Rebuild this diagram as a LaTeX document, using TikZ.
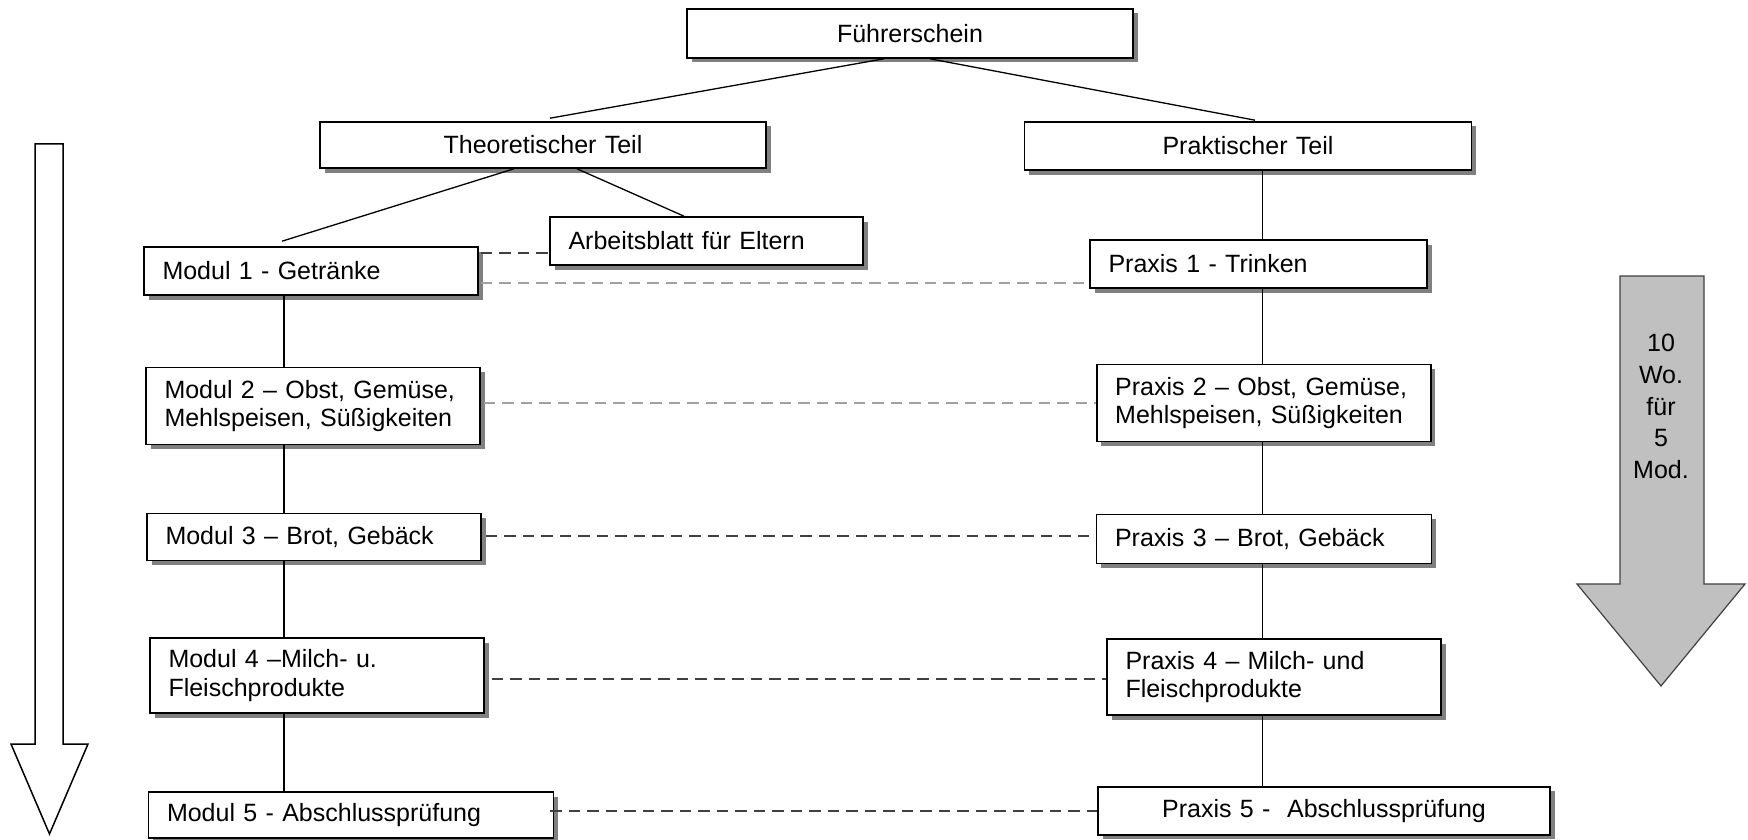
\documentclass[tikz,border=0pt]{standalone}
\usepackage{fontspec}
\setmainfont{Liberation Sans}
\usetikzlibrary{shadows}
\definecolor{shadowgray}{HTML}{808080}
\definecolor{dashdarkc}{HTML}{404040}
\definecolor{dashlightc}{HTML}{A0A0A0}
\definecolor{arrowfill}{HTML}{C0C0C0}
\begin{document}
\begin{tikzpicture}[x=1pt,y=-1pt,
  box/.style={draw=black, line width=1.6pt, fill=white,
    drop shadow={shadow xshift=4.5pt, shadow yshift=-4.5pt, fill=shadowgray, opacity=1},
    inner xsep=18.5pt, inner ysep=0pt,
    font=\fontsize{25}{28.5}\selectfont},
  lbox/.style={box, align=left},
  cbox/.style={box, align=center},
  conn/.style={line width=1.3pt, black},
  dashdark/.style={line width=1.8pt, dashdarkc, dash pattern=on 11.5pt off 7pt},
  dashlight/.style={line width=2pt, dashlightc, dash pattern=on 11.5pt off 7pt},
]
\useasboundingbox (0,0) rectangle (1748,840);
\fill[white] (0,0) rectangle (1748,840);

% top level
\node[cbox, text width=409pt, minimum height=49pt] (F) at (910,33.5) {Führerschein};
\node[cbox, text width=409pt, minimum height=46pt] (T) at (543,145) {Theoretischer Teil};
\node[cbox, text width=410pt, minimum height=48pt] (P) at (1248,146) {Praktischer Teil};
\node[lbox, text width=276pt, minimum height=48pt] (A) at (706.5,241) {Arbeitsblatt für Eltern};

% left column
\node[lbox, text width=297pt, minimum height=48pt] (M1) at (311,271) {Modul 1 - Getränke};
\node[lbox, text width=297pt, minimum height=77pt] (M2) at (313,406) {Modul 2 – Obst, Gemüse,\\Mehlspeisen, Süßigkeiten};
\node[lbox, text width=297pt, minimum height=47pt] (M3) at (314,537) {Modul 3 – Brot, Gebäck};
\node[lbox, text width=297pt, minimum height=75pt] (M4) at (317,675.5) {Modul 4 –Milch- u.\\Fleischprodukte};
\node[lbox, text width=368pt, minimum height=46pt] (M5) at (351,815) {Modul 5 - Abschlussprüfung};

% right column
\node[lbox, text width=300pt, minimum height=48pt] (X1) at (1258.5,264) {Praxis 1 - Trinken};
\node[lbox, text width=297pt, minimum height=77pt] (X2) at (1263.7,403) {Praxis 2 – Obst, Gemüse,\\Mehlspeisen, Süßigkeiten};
\node[lbox, text width=298pt, minimum height=49pt] (X3) at (1264,539) {Praxis 3 – Brot, Gebäck};
\node[lbox, text width=297pt, minimum height=76pt] (X4) at (1274,677) {Praxis 4 – Milch- und\\Fleischprodukte};
\node[cbox, text width=415pt, minimum height=48pt] (X5) at (1324,810.7) {Praxis 5 -\ \ Abschlussprüfung};

% tree connectors
\draw[conn] ([xshift=-26pt]F.south) -- ([xshift=7pt,yshift=3pt]T.north);
\draw[conn] ([xshift=20pt]F.south) -- ([xshift=7pt,yshift=1pt]P.north);
\draw[conn] ([xshift=-29pt]T.south) -- ([xshift=-29pt,yshift=5pt]M1.north);
\draw[conn] ([xshift=34pt]T.south) -- ([xshift=-22.5pt]A.north);

\coordinate (lx) at (284,0);
\coordinate (rx) at (1262.5,0);
\draw[conn] (M1.south -| lx) -- (M2.north -| lx);
\draw[conn] (M2.south -| lx) -- (M3.north -| lx);
\draw[conn] (M3.south -| lx) -- (M4.north -| lx);
\draw[conn] (M4.south -| lx) -- (M5.north -| lx);
\draw[conn] (P.south -| rx) -- (X1.north -| rx);
\draw[conn] (X1.south -| rx) -- (X2.north -| rx);
\draw[conn] (X2.south -| rx) -- (X3.north -| rx);
\draw[conn] (X3.south -| rx) -- (X4.north -| rx);
\draw[conn] (X4.south -| rx) -- (X5.north -| rx);

% dashed cross links
\draw[dashdark] ([xshift=2pt,yshift=18pt]M1.east) -- ([yshift=18pt]M1.east -| A.west);
\draw[dashlight] ([xshift=2pt,yshift=-12pt]M1.east) -- ([yshift=-12pt]M1.east -| X1.west);
\draw[dashlight] ([xshift=3pt,yshift=3.4pt]M2.east) -- ([yshift=3.4pt]M2.east -| X2.west);
\draw[dashdark] ([xshift=4pt,yshift=1pt]M3.east) -- ([yshift=1pt]M3.east -| X3.west);
\draw[dashdark] ([xshift=7pt,yshift=-3.5pt]M4.east) -- ([yshift=-3.5pt]M4.east -| X4.west);
\draw[dashdark] ([xshift=-4pt,yshift=4.3pt]M5.east) -- ([yshift=4.3pt]M5.east -| X5.west);

% hollow time arrow (left)
\draw[line width=1.5pt, black, fill=white, line join=miter]
  (35,144) -- (63,144) -- (63,744) -- (88,744) -- (49.5,834) -- (11,744) -- (35,744) -- cycle;

% grey arrow (right)
\draw[line width=1.2pt, dashdarkc, fill=arrowfill, line join=miter]
  (1620,276) -- (1704,276) -- (1704,584) -- (1745,584) -- (1661,686) -- (1577,584) -- (1620,584) -- cycle;
\node[align=center, inner sep=0pt, font=\fontsize{25}{31.7}\selectfont] (W) at (1661,406.5) {10\\Wo.\\für\\5\\Mod.};
\end{tikzpicture}
\end{document}
